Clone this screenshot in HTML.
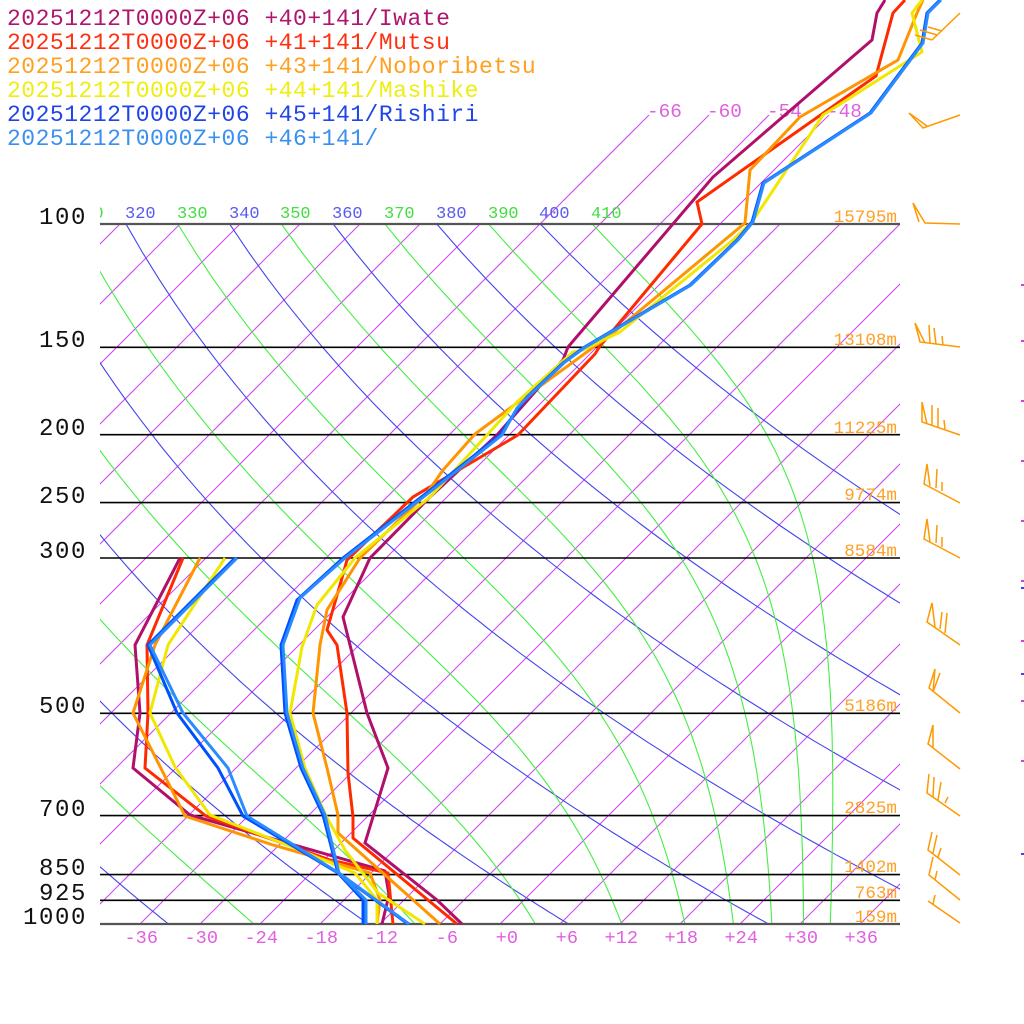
<!DOCTYPE html>
<html><head><meta charset="utf-8">
<style>
html,body{margin:0;padding:0;background:#fff;}
svg{display:block;}
text{font-family:"Liberation Mono","DejaVu Sans Mono",monospace;}
</style></head>
<body>
<svg id="sk" xmlns="http://www.w3.org/2000/svg" width="1024" height="1024" viewBox="0 0 1024 1024">
<rect width="1024" height="1024" fill="#fff"/>
<defs>
<clipPath id="plot"><rect x="100" y="224" width="800" height="700"/></clipPath>
<clipPath id="lab"><rect x="100" y="190" width="800" height="34"/></clipPath>
</defs>

<g clip-path="url(#plot)">
<g id="iso"></g>
<g id="dry"></g>
<g id="moist"></g>
</g>
<g id="iso2"></g>

<!-- theta labels -->
<g clip-path="url(#lab)" font-size="17">
<text x="73" y="218" fill="#44dd44">310</text>
<text x="125" y="218" fill="#5a5aee">320</text>
<text x="177" y="218" fill="#44dd44">330</text>
<text x="229" y="218" fill="#5a5aee">340</text>
<text x="280" y="218" fill="#44dd44">350</text>
<text x="332" y="218" fill="#5a5aee">360</text>
<text x="384" y="218" fill="#44dd44">370</text>
<text x="436" y="218" fill="#5a5aee">380</text>
<text x="488" y="218" fill="#44dd44">390</text>
<text x="539" y="218" fill="#5a5aee">400</text>
<text x="591" y="218" fill="#44dd44">410</text>
</g>

<!-- isotherm top labels -->
<g font-size="19.4" fill="#e060e0">
<text x="647" y="117">-66</text>
<text x="707" y="117">-60</text>
<text x="767" y="117">-54</text>
<text x="827" y="117">-48</text>
</g>

<!-- pressure lines -->
<g stroke="#000" stroke-width="1.6">
<line x1="100" y1="347.3" x2="900" y2="347.3"/>
<line x1="100" y1="434.7" x2="900" y2="434.7"/>
<line x1="100" y1="502.6" x2="900" y2="502.6"/>
<line x1="100" y1="558" x2="900" y2="558"/>
<line x1="100" y1="713.3" x2="900" y2="713.3"/>
<line x1="100" y1="815.6" x2="900" y2="815.6"/>
<line x1="100" y1="874.6" x2="900" y2="874.6"/>
<line x1="100" y1="900.3" x2="900" y2="900.3"/>
</g>
<g stroke="#555" stroke-width="2.2">
<line x1="100" y1="224" x2="900" y2="224"/>
<line x1="100" y1="924" x2="900" y2="924"/>
</g>

<!-- pressure labels -->
<g font-size="24" fill="#111" text-anchor="end" letter-spacing="1.6">
<text x="87" y="224">100</text>
<text x="87" y="347">150</text>
<text x="87" y="435">200</text>
<text x="87" y="503">250</text>
<text x="87" y="558">300</text>
<text x="87" y="713">500</text>
<text x="87" y="816">700</text>
<text x="87" y="875">850</text>
<text x="87" y="900">925</text>
<text x="87" y="924">1000</text>
</g>

<!-- bottom temperature labels -->
<g font-size="18.6" fill="#e060e0" text-anchor="end">
<text x="158" y="943">-36</text>
<text x="218" y="943">-30</text>
<text x="278" y="943">-24</text>
<text x="338" y="943">-18</text>
<text x="398" y="943">-12</text>
<text x="458" y="943">-6</text>
<text x="518" y="943">+0</text>
<text x="578" y="943">+6</text>
<text x="638" y="943">+12</text>
<text x="698" y="943">+18</text>
<text x="758" y="943">+24</text>
<text x="818" y="943">+30</text>
<text x="878" y="943">+36</text>
</g>

<!-- profiles -->
<g fill="none" stroke-width="3">
<g stroke="#b0106a">
<polyline points="885,0 877,13 872,40 713,177 568,347 563,360 497,435 430,497 370,558 343,617 367,713 388,768 365,843 437,900 462,924"/>
<polyline points="180,558 135,645 140,713 133,768 190,815 385,871 389,895 382,924"/>
</g>
<g stroke="#ff2a00">
<polyline points="905,0 893,13 876,76 697,202 702,224 600,346 595,354 518,435 413,497 347,560 340,585 327,630 337,645 347,713 348,773 353,817 353,838 428,900 457,924"/>
<polyline points="183,558 147,645 148,713 145,768 206,816 330,860 388,873 393,924"/>
</g>
<g stroke="#ff9500">
<polyline points="923,0 917,13 898,60 800,117 750,170 745,223 613,333 517,403 475,434 443,470 427,493 360,558 327,610 320,645 313,713 327,768 338,815 338,833 440,924"/>
<polyline points="200,558 155,645 133,713 185,816 273,845 370,873 380,900 377,924"/>
</g>
<g stroke="#f0e800">
<polyline points="922,0 912,13 922,52 823,115 752,222 733,240 620,332 583,350 573,352 517,402 487,435 430,497 355,558 317,605 302,647 290,713 305,768 326,816 345,850 378,893 425,924"/>
<polyline points="225,558 168,645 150,713 175,767 210,815 300,850 355,873 377,900 377,924"/>
</g>
<g stroke="#0050ff">
<polyline points="940,0 927,13 922,43 870,113 763,183 752,222 737,240 690,285 583,348 563,363 527,397 512,417 500,435 447,477 343,558 297,600 281,645 285,713 301,768 323,815 338,873 408,924"/>
<polyline points="235,558 148,645 177,713 218,768 243,816 338,873 363,900 363,924"/>
</g>
<g stroke="#2a8cff">
<polyline points="941,0 928,13 923,43 871,113 764,183 753,222 738,240 691,285 584,348 565,362 530,395 517,408 502,435 449,477 345,558 300,598 283,645 287,713 303,768 325,815 339,873 409,924"/>
<polyline points="237,558 150,645 183,713 228,768 247,816 339,873 366,900 366,924"/>
</g>
</g>

<!-- height labels -->
<g font-size="17.6" fill="#ffa028" text-anchor="end">
<text x="897" y="222">15795m</text>
<text x="897" y="345">13108m</text>
<text x="897" y="433">11225m</text>
<text x="897" y="500">9774m</text>
<text x="897" y="556">8584m</text>
<text x="897" y="711">5186m</text>
<text x="897" y="813">2825m</text>
<text x="897" y="872">1402m</text>
<text x="897" y="898">763m</text>
<text x="897" y="922">159m</text>
</g>

<!-- wind barbs -->
<g fill="none" stroke="#ff9900" stroke-width="1.5">
<path d="M960 13L932 40M932 40L915 35M937 35L920 30M942 31L928 27"/>
<path d="M960 115L923 128L909 113L927 126"/>
<path d="M960 224L925 223L913 203L919 222"/>
<path d="M960 347L920 342L915 323L925 343M930 343L929 325M936 344L934 328M943 345L942 336"/>
<path d="M960 435L922 422L922 402L927 424M932 425L932 405M938 427L938 408M945 429L944 420"/>
<path d="M960 503L924 484L927 464L930 486M936 488L937 469M942 491L942 482"/>
<path d="M960 558L924 539L927 519L930 542M936 543L937 525M942 547L942 537"/>
<path d="M960 645L927 622L932 603L935 627M940 629L942 612M945 633L947 613"/>
<path d="M960 713L929 688L935 669L933 692L940 673"/>
<path d="M960 769L928 744L933 725L933 747"/>
<path d="M960 816L927 793L929 774M933 797L934 777M938 800L941 782M945 803L948 797"/>
<path d="M960 875L928 850L932 832M933 853L937 835M938 857L941 848"/>
<path d="M960 900L929 875L933 857M935 880L937 871"/>
<path d="M960 923L928 901M933 904L935 895"/>
</g>

<!-- right edge marks -->
<g>
<rect x="1021" y="284" width="3" height="2" fill="#cc44dd"/>
<rect x="1021" y="340" width="3" height="2" fill="#cc44dd"/>
<rect x="1021" y="400" width="3" height="2" fill="#cc44dd"/>
<rect x="1021" y="460" width="3" height="2" fill="#cc44dd"/>
<rect x="1021" y="520" width="3" height="2" fill="#cc44dd"/>
<rect x="1021" y="580" width="3" height="2" fill="#cc44dd"/>
<rect x="1021" y="587" width="3" height="2" fill="#4444ee"/>
<rect x="1021" y="640" width="3" height="2" fill="#cc44dd"/>
<rect x="1021" y="673" width="3" height="2" fill="#4444ee"/>
<rect x="1021" y="700" width="3" height="2" fill="#cc44dd"/>
<rect x="1021" y="760" width="3" height="2" fill="#cc44dd"/>
<rect x="1021" y="853" width="3" height="2" fill="#4444ee"/>
</g>

<!-- legend -->
<g font-size="23" letter-spacing="0.5">
<text x="7" y="25" fill="#b0156e">20251212T0000Z+06 +40+141/Iwate</text>
<text x="7" y="49" fill="#ff3010">20251212T0000Z+06 +41+141/Mutsu</text>
<text x="7" y="73" fill="#ffa020">20251212T0000Z+06 +43+141/Noboribetsu</text>
<text x="7" y="97" fill="#eeee10">20251212T0000Z+06 +44+141/Mashike</text>
<text x="7" y="121" fill="#1f45e8">20251212T0000Z+06 +45+141/Rishiri</text>
<text x="7" y="145" fill="#3a90f0">20251212T0000Z+06 +46+141/</text>
</g>

<script>
(function(){
var NS='http://www.w3.org/2000/svg';
function Y(p){return 924-304.0*Math.log(1000/p);}
function X(Tc,y){return 500+10*Tc+(924-y);}
function add(g,d,col,w){var e=document.createElementNS(NS,'path');e.setAttribute('d',d);e.setAttribute('stroke',col);e.setAttribute('stroke-width',w);e.setAttribute('fill','none');g.appendChild(e);}
var gi=document.getElementById('iso'),gi2=document.getElementById('iso2'),gd=document.getElementById('dry'),gm=document.getElementById('moist');
var T,p,d,y;
for(T=-150;T<=60;T+=6){add(gi,'M'+X(T,924)+' 924L'+X(T,224)+' 224','#cc44ee',1);}
[-66,-60,-54,-48].forEach(function(t){add(gi2,'M'+X(t,224)+' 224L'+X(t,115)+' 115','#cc44ee',1);});
for(var th=220;th<=400;th+=20){d='';for(p=100;p<=1000;p+=10){T=th*Math.pow(p/1000,0.2857)-273.15;y=Y(p);d+=(p==100?'M':'L')+X(T,y).toFixed(1)+' '+y.toFixed(1);}add(gd,d,'#4444ee',1.1);}
function es(Tc){return 6.112*Math.exp(17.67*Tc/(Tc+243.5));}
function dTdp(Tk,pp){var e=es(Tk-273.15);var rs=0.622*e/(pp-e);var L=2.501e6,Rd=287.04,cp=1005.7;return (Rd*Tk+L*rs)/pp/(cp+L*L*rs*0.622/(Rd*Tk*Tk));}
for(var te=230;te<=410;te+=20){T=te*Math.pow(0.1,0.2857);p=100;d='M'+X(T-273.15,224).toFixed(1)+' 224';
while(p<1000){var k1=dTdp(T,p);var k2=dTdp(T+k1,p+1);T+=(k1+k2)/2;p+=1;if(p%10===0){y=Y(p);d+='L'+X(T-273.15,y).toFixed(1)+' '+y.toFixed(1);}}
add(gm,d,'#44ee44',1.1);}
})();
</script>
</svg>
</body></html>
